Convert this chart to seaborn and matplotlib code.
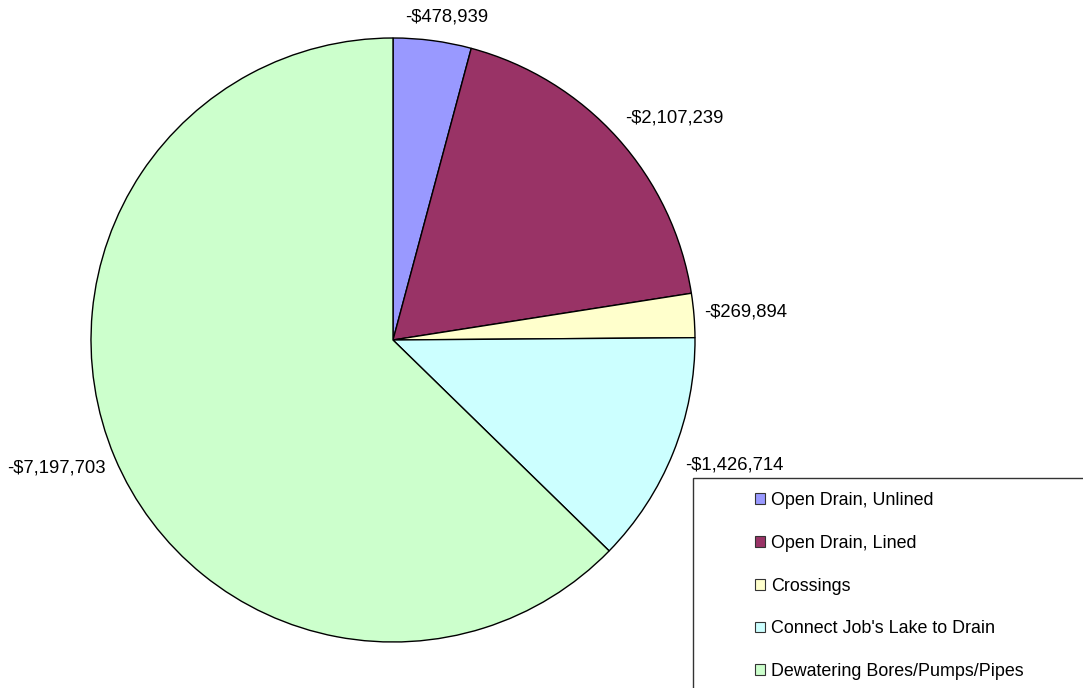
import matplotlib
matplotlib.use("Agg")
import matplotlib.pyplot as plt
from matplotlib.patches import Patch, Rectangle
from matplotlib.transforms import ScaledTranslation
import seaborn as sns

categories = [
    "Open Drain, Unlined",
    "Open Drain, Lined",
    "Crossings",
    "Connect Job's Lake to Drain",
    "Dewatering Bores/Pumps/Pipes",
]
costs = [478939, 2107239, 269894, 1426714, 7197703]
value_labels = ["-$478,939", "-$2,107,239", "-$269,894", "-$1,426,714", "-$7,197,703"]
slice_colors = ["#9999FF", "#993366", "#FFFFCC", "#CCFFFF", "#CCFFCC"]

sns.set_theme(style="white")
plt.rcParams["font.family"] = ["Liberation Sans", "DejaVu Sans"]
plt.rcParams["text.color"] = "black"

W, H = 1083, 688
fig = plt.figure(figsize=(W / 100, H / 100), dpi=100)
fig.patch.set_facecolor("white")

cx, cy, r = 393, 340, 302
ax = fig.add_axes([(cx - r) / W, (H - cy - r) / H, 2 * r / W, 2 * r / H])
palette = sns.color_palette(slice_colors)

wedges, texts = ax.pie(
    costs,
    labels=value_labels,
    colors=palette,
    startangle=90,
    counterclock=False,
    labeldistance=1.06,
    wedgeprops=dict(edgecolor="black", linewidth=1.0),
    textprops=dict(fontsize=13.3, color="black"),
)
texts[0].set_horizontalalignment("center")

# small pixel nudges of the value labels away from the default spots
nudges = [(12, 6), (-6, 8), (-8, 2), (-5, -5), (8, -4)]
for t, (dx, dy) in zip(texts, nudges):
    t.set_transform(ax.transData + ScaledTranslation(dx / 100, dy / 100, fig.dpi_scale_trans))

ax.set_xlim(-1, 1)
ax.set_ylim(-1, 1)
ax.set_axis_off()

# legend box, running off the right and bottom of the figure
box = Rectangle((693 / W, -0.05), 1.0, (H - 478) / H + 0.05, transform=fig.transFigure,
                facecolor="white", edgecolor="#333333", linewidth=1.0,
                clip_on=False, zorder=1)
fig.patches.append(box)

handles = [Patch(facecolor=c, edgecolor="#333333", linewidth=0.8) for c in palette]
leg = fig.legend(
    handles, categories,
    loc="upper left",
    bbox_to_anchor=(755 / W, 1 - 492 / H),
    frameon=False,
    fontsize=12.9,
    labelcolor="black",
    handlelength=0.55,
    handleheight=0.55,
    handletextpad=0.35,
    labelspacing=1.44,
    borderaxespad=0,
    borderpad=0,
)
leg.set_zorder(2)

fig.savefig("out.png", dpi=100, facecolor="white")
